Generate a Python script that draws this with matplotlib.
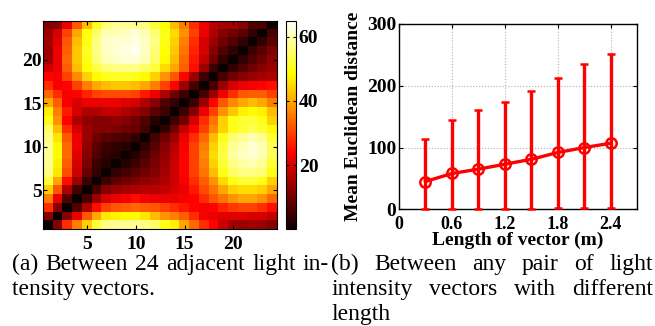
import matplotlib
matplotlib.use("Agg")
import matplotlib.pyplot as plt
import numpy as np

plt.rcParams['font.family'] = 'Liberation Serif'

# (a) distance between 24 adjacent light intensity vectors, rows from bottom (1) to top (24)
dist_rows = [
    [0, 12, 28, 36, 44, 52, 57, 58, 58, 58, 57, 55, 50, 47, 40, 34, 28, 24, 19, 15, 14, 15, 14, 12],
    [12, 0, 12, 22, 32, 40, 46, 47, 48, 48, 46, 42, 38, 36, 33, 28, 23, 22, 21, 21, 21, 20, 20, 18],
    [28, 12, 0, 7, 16, 25, 30, 32, 33, 34, 33, 32, 30, 28, 26, 24, 23, 24, 27, 29, 30, 30, 28, 25],
    [36, 22, 7, 0, 6, 14, 20, 22, 23, 25, 23, 22, 22, 22, 23, 24, 28, 32, 35, 38, 40, 40, 38, 34],
    [44, 32, 16, 6, 0, 6, 12, 14, 15, 16, 17, 17, 18, 20, 22, 26, 31, 35, 40, 44, 45, 45, 44, 40],
    [52, 40, 25, 14, 5, 0, 5, 8, 10, 11, 13, 14, 16, 19, 23, 28, 33, 38, 45, 50, 52, 52, 50, 44],
    [57, 46, 31, 19, 9, 4, 0, 4, 6, 8, 10, 12, 15, 19, 24, 30, 35, 42, 50, 55, 57, 57, 56, 50],
    [58, 47, 33, 20, 11, 5, 3, 0, 3, 5, 8, 11, 14, 19, 24, 30, 36, 44, 52, 57, 59, 60, 58, 52],
    [58, 48, 34, 21, 12, 7, 4, 3, 0, 3, 6, 10, 13, 18, 24, 30, 37, 45, 53, 59, 61, 62, 60, 54],
    [58, 48, 34, 22, 13, 8, 5, 4, 3, 0, 4, 8, 12, 17, 23, 30, 36, 44, 52, 58, 60, 62, 60, 54],
    [57, 46, 32, 22, 14, 10, 8, 7, 6, 4, 0, 6, 10, 14, 22, 28, 34, 42, 50, 56, 58, 60, 58, 52],
    [55, 42, 28, 20, 14, 12, 12, 11, 10, 9, 6, 0, 4, 10, 18, 24, 30, 37, 44, 50, 52, 54, 52, 48],
    [50, 38, 24, 16, 13, 12, 12, 13, 12, 10, 7, 3, 0, 5, 10, 20, 28, 35, 44, 50, 52, 52, 50, 44],
    [47, 36, 26, 20, 16, 16, 18, 18, 16, 14, 12, 8, 5, 0, 5, 12, 22, 30, 38, 43, 47, 48, 47, 42],
    [40, 33, 23, 20, 22, 22, 22, 22, 21, 20, 16, 12, 7, 4, 0, 5, 14, 24, 32, 37, 40, 42, 40, 36],
    [34, 28, 23, 24, 27, 30, 31, 31, 31, 30, 26, 22, 16, 10, 5, 0, 6, 14, 22, 28, 32, 33, 33, 30],
    [28, 23, 24, 30, 36, 40, 42, 43, 43, 42, 40, 36, 30, 24, 14, 6, 0, 6, 14, 20, 22, 23, 24, 25],
    [24, 23, 30, 37, 44, 48, 50, 51, 51, 50, 48, 44, 38, 32, 24, 14, 5, 0, 6, 10, 12, 14, 15, 16],
    [19, 22, 33, 42, 49, 53, 56, 57, 57, 57, 55, 52, 45, 40, 33, 25, 14, 5, 0, 4, 7, 10, 12, 14],
    [15, 22, 34, 43, 50, 56, 60, 61, 62, 62, 60, 55, 48, 42, 34, 26, 18, 10, 4, 0, 4, 7, 10, 13],
    [14, 22, 33, 43, 51, 57, 61, 62, 63, 64, 61, 56, 49, 43, 35, 27, 20, 12, 7, 4, 0, 5, 8, 11],
    [15, 21, 32, 42, 50, 57, 61, 62, 62, 63, 61, 57, 50, 44, 36, 28, 20, 14, 10, 7, 4, 0, 4, 8],
    [14, 20, 30, 40, 49, 55, 60, 60, 61, 62, 60, 56, 50, 45, 38, 30, 22, 16, 12, 10, 8, 4, 0, 6],
    [12, 13, 22, 32, 42, 50, 56, 58, 58, 58, 57, 52, 49, 42, 36, 28, 22, 17, 15, 15, 12, 7, 6, 0],
]
heat_ticks = [5, 10, 15, 20]
cbar_ticks = [20, 40, 60]

# (b) mean euclidean distance vs. vector length, with min/max bars
lengths = [0.3, 0.6, 0.9, 1.2, 1.5, 1.8, 2.1, 2.4]
mean_dist = [45, 58, 65, 73, 81, 92, 100, 107]
max_dist = [114, 144, 160, 174, 191, 213, 235, 252]
min_dist = [0, 0, 0, 0.5, 1, 1.5, 2, 2.5]
x_ticks = [0, 0.6, 1.2, 1.8, 2.4]
x_ticklabels = ['0', '0.6', '1.2', '1.8', '2.4']
y_ticks = [0, 100, 200, 300]

W, H = 655, 326
fig = plt.figure(figsize=(W / 100, H / 100), dpi=100)

def box(x0, y0, x1, y1):
    # pixel box (top-left origin) -> figure fraction rect
    return [x0 / W, 1 - y1 / H, (x1 - x0) / W, (y1 - y0) / H]

tick_font = dict(fontsize=14, fontweight='bold')

# ---- heatmap ----
ax1 = fig.add_axes(box(43.3, 20.7, 277.3, 229.3))
D = np.array(dist_rows, dtype=float)
im = ax1.imshow(D, cmap='hot', origin='lower', interpolation='nearest',
                extent=[0.5, 24.5, 0.5, 24.5], aspect='auto', vmin=0, vmax=65)
ax1.set_xticks(heat_ticks)
ax1.set_yticks(heat_ticks)
ax1.set_xticklabels([str(t) for t in heat_ticks], **tick_font)
ax1.set_yticklabels([str(t) for t in heat_ticks], **tick_font)
ax1.tick_params(direction='in', top=True, right=True, length=3, width=0.8)
ax1.tick_params(axis='x', pad=5)
ax1.tick_params(axis='y', pad=1)

cax = fig.add_axes(box(286, 20.7, 296, 229.3))
cb = fig.colorbar(im, cax=cax, ticks=cbar_ticks)
cb.ax.set_yticklabels([str(t) for t in cbar_ticks], **tick_font)
cb.ax.tick_params(direction='in', length=2, pad=2, left=True)
cb.outline.set_linewidth(0.8)

# ---- error bar chart ----
ax2 = fig.add_axes(box(399, 24, 637.3, 209.3))
mean_arr = np.array(mean_dist)
yerr = [mean_arr - np.array(min_dist), np.array(max_dist) - mean_arr]
ax2.errorbar(lengths, mean_dist, yerr=yerr, color='red', lw=2.4, elinewidth=2.4,
             capsize=3, capthick=2.4, marker='o', ms=7.5, mfc='none', mew=1.8,
             clip_on=False, zorder=3)
ax2.set_xlim(0, 2.7)
ax2.set_ylim(0, 300)
ax2.set_xticks(x_ticks)
ax2.set_xticklabels(x_ticklabels, fontsize=13, fontweight='bold')
ax2.set_yticks(y_ticks)
ax2.set_yticklabels([str(t) for t in y_ticks], **tick_font)
ax2.tick_params(direction='in', top=True, right=True, length=3, width=0.8)
ax2.tick_params(axis='x', pad=5)
ax2.tick_params(axis='y', pad=2)
ax2.grid(True, linestyle=':', color='#b0b0b0', lw=0.8)
for s in ax2.spines.values():
    s.set_linewidth(1.0)

fig.text(518 / W, 1 - 245 / H, 'Length of vector (m)', ha='center', va='baseline',
         fontsize=14, fontweight='bold')
fig.text(354 / W, 1 - 116.7 / H, 'Mean Euclidean distance', ha='center', va='center',
         rotation=90, fontsize=14, fontweight='bold')

# ---- captions ----
cap_size = 17
renderer = fig.canvas.get_renderer()

def justify(words, x0, x1, y):
    texts = [fig.text(0, 1 - y / H, w, ha='left', va='baseline', fontsize=cap_size) for w in words]
    widths = [t.get_window_extent(renderer).width for t in texts]
    gap = (x1 - x0 - sum(widths)) / max(len(words) - 1, 1)
    x = x0
    for t, w in zip(texts, widths):
        t.set_x(x / W)
        x += w + gap

def left(text, x0, y):
    fig.text(x0 / W, 1 - y / H, text, ha='left', va='baseline', fontsize=cap_size)

justify(['(a)', 'Between', '24', 'adjacent', 'light', 'in-'], 12, 329, 270)
left('tensity vectors.', 12, 295)
justify(['(b)', 'Between', 'any', 'pair', 'of', 'light'], 331, 653, 270)
justify(['intensity', 'vectors', 'with', 'different'], 331, 653, 295)
left('length', 331, 320)

fig.savefig('out.png', dpi=100)
